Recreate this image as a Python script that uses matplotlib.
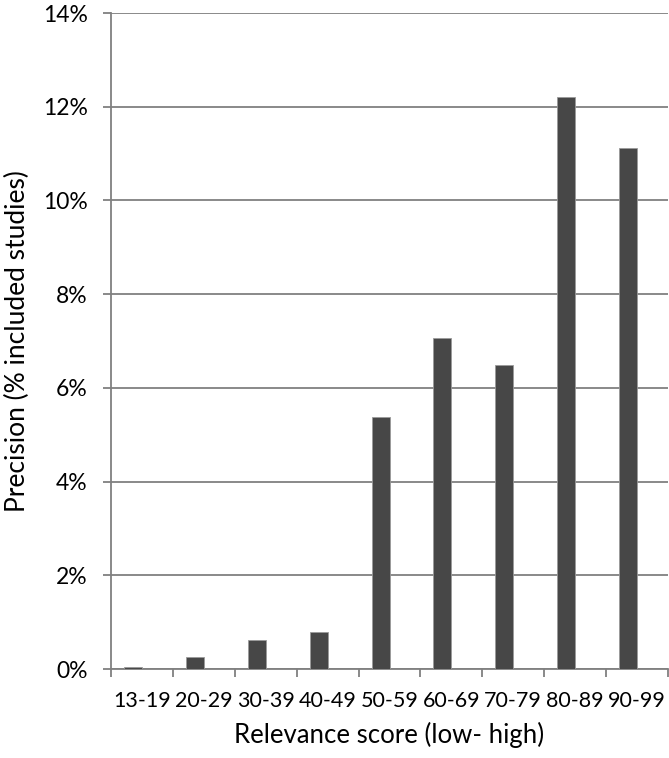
import numpy as np
import matplotlib.pyplot as plt
from matplotlib.ticker import FuncFormatter, MultipleLocator

# Precision per relevance score bin
categories = ['13-19', '20-29', '30-39', '40-49', '50-59', '60-69', '70-79', '80-89', '90-99']
precision = [0.04, 0.26, 0.62, 0.79, 5.38, 7.06, 6.48, 12.2, 11.12]

plt.rcParams['font.family'] = ['Lato', 'DejaVu Sans']

fig = plt.figure(figsize=(6.69, 7.58), dpi=100)
ax = fig.add_axes([0.166, 0.1174, 0.8325, 0.8654])

x = np.arange(len(categories))
bw = 0.29
# Excel-style clustered bar: the bar sits just left of the category centre
ax.bar(x - bw / 2, precision, width=bw, color='#474747', edgecolor='#9a9a9a',
       linewidth=0.6, zorder=3)

ax.set_xlim(-0.5, len(categories) - 0.5)
ax.set_ylim(0, 14)
ax.yaxis.set_major_locator(MultipleLocator(2))
ax.yaxis.set_major_formatter(FuncFormatter(lambda v, p: f'{v:.0f}%'))
ax.grid(axis='y', color='#808080', linewidth=1.3, zorder=0)

ax.set_xticks(x)
ax.set_xticklabels(categories)
ax.set_xticks(np.arange(len(categories) + 1) - 0.5, minor=True)
ax.tick_params(axis='x', which='major', length=0, pad=16, labelsize=15.5)
ax.tick_params(axis='x', which='minor', length=5.5, width=1.3, color='#808080')
ax.tick_params(axis='y', length=5.8, width=1.3, color='#808080', pad=11, labelsize=16.5)

for side in ['top', 'right']:
    ax.spines[side].set_visible(False)
for side in ['left', 'bottom']:
    ax.spines[side].set_color('#808080')
    ax.spines[side].set_linewidth(1.3)

ax.set_xlabel('Relevance score (low- high)', fontsize=18.5, labelpad=8)
ax.set_ylabel('Precision (% included studies)', fontsize=19, labelpad=9)

fig.savefig('out.png', dpi=100)
